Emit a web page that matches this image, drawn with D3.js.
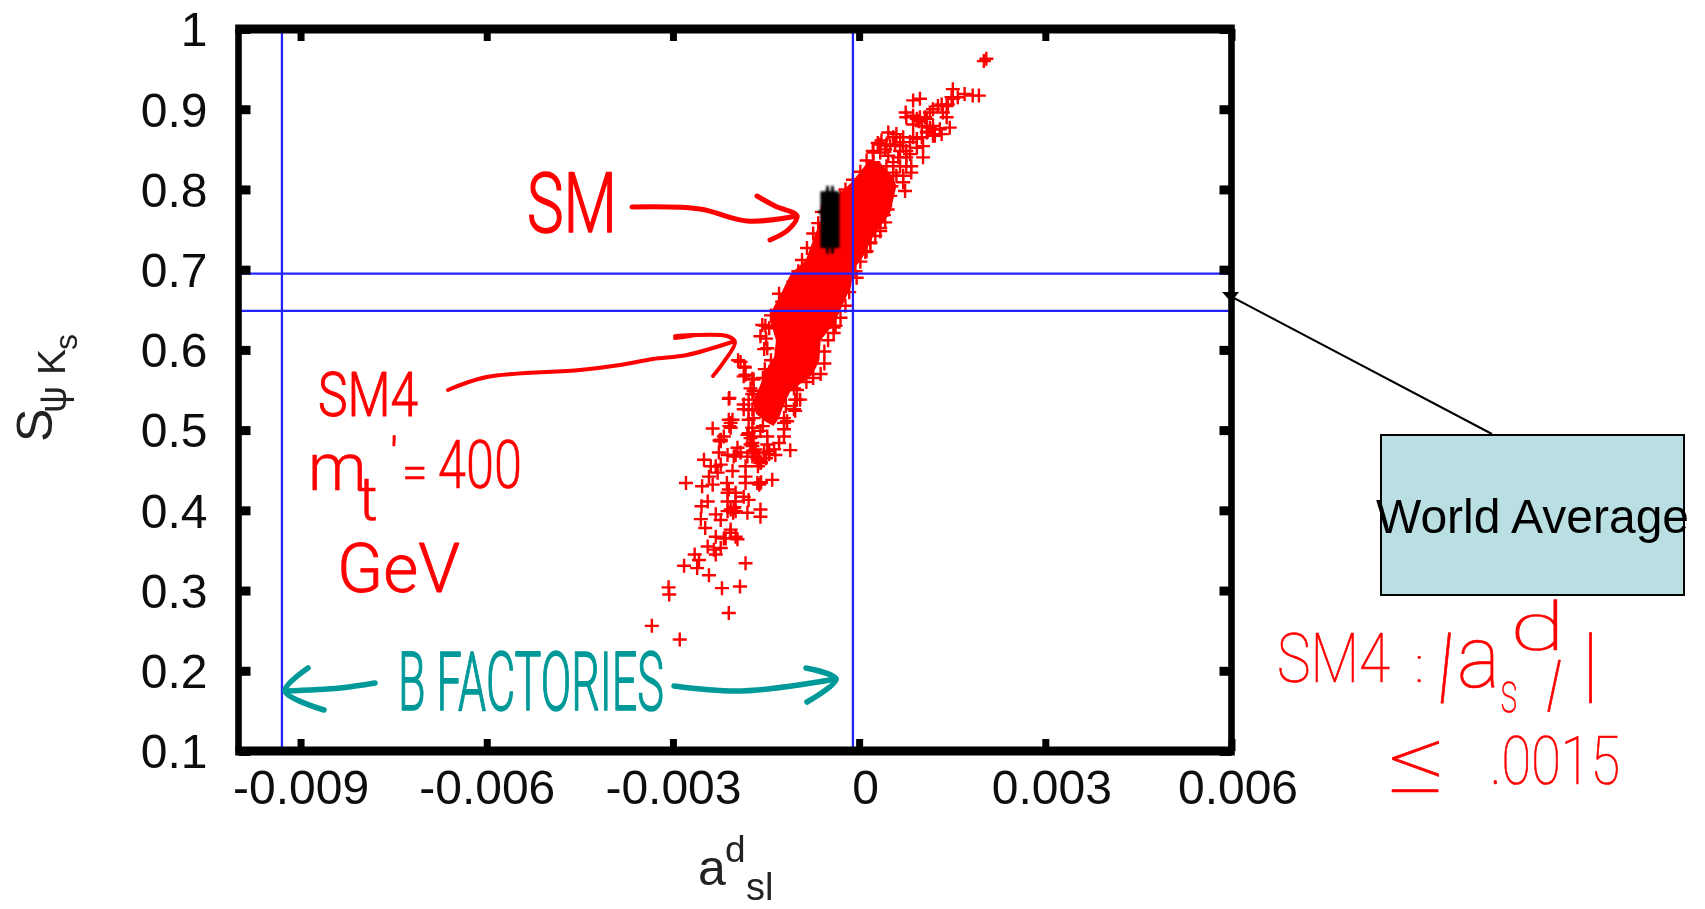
<!DOCTYPE html>
<html>
<head>
<meta charset="utf-8">
<title>S psi Ks versus a^d_sl</title>
<script src="https://cdn.jsdelivr.net/npm/d3@7"></script>
<style>
html,body{margin:0;padding:0;background:#fff}
svg{display:block;font-family:"Liberation Sans",Arial,sans-serif}
</style>
</head>
<body>
<svg id="chart" width="1705" height="909"></svg>
<script>
// ---- data: x values are in units of 10^-3 ----
const xTicks=[-9,-6,-3,0,3,6];
const xTickLabels=["-0.009","-0.006","-0.003","0","0.003","0.006"];
const yTicks=[0.1,0.2,0.3,0.4,0.5,0.6,0.7,0.8,0.9,1];
const yTickLabels=["0.1","0.2","0.3","0.4","0.5","0.6","0.7","0.8","0.9","1"];
const bFactoryA=[-9.30,-0.10];
const worldAverageS=[0.6486,0.695];

// SM4 points read one by one: the lower tail
const sm4Tail=[[-3.34,.256],[-2.89,.239],[-2.10,.272],[-3.07,.304],[-3.06,.295],[-2.21,.303],[-1.92,.305],[-2.42,.319],[-1.83,.334],[-2.82,.331],[-2.61,.328],[-2.65,.345],[-2.58,.338],[-2.44,.355],[-2.34,.351],[-2.31,.345],[-2.23,.353],[-2.07,.372],[-1.96,.364],[-2.15,.365],[-2.31,.367],[-2.48,.378],[-2.55,.389],[-2.31,.395],[-2.23,.388],[-2.07,.401],[-1.99,.399],[-2.03,.397],[-2.01,.404],[-1.80,.397],[-1.59,.401],[-1.59,.392],[-2.54,.405],[-2.44,.411],[-2.12,.422],[-1.86,.417],[-1.78,.413],[-1.99,.411],[-2.53,.430],[-2.79,.434],[-2.36,.432],[-2.13,.434],[-1.83,.434],[-1.61,.432],[-1.64,.434],[-1.58,.435],[-1.40,.438],[-2.42,.442],[-2.28,.447],[-2.04,.449],[-1.83,.455],[-2.50,.463],[-2.26,.472],[-2.02,.467],[-1.91,.472],[-1.61,.463],[-1.35,.469],[-1.11,.475],[-2.23,.486],[-1.96,.478],[-2.36,.502],[-2.07,.509],[-2.09,.505],[-1.70,.492],[-1.48,.492],[-1.21,.492],[-2.10,.539],[-1.86,.526],[-1.86,.567],[-1.95,.587],[-1.84,.578],[-1.70,.563],[-1.52,.576],[-1.59,.617],[-1.53,.601],[-1.51,.630],[-1.03,.538],[-1.03,.524],[-1.21,.509],[-0.74,.565],[-0.41,.628],[-0.41,.621],[-1.69,.471],[-1.63,.455],[-1.58,.460],[-1.72,.480],[-1.75,.490],[-1.78,.496],[-1.72,.484],[-1.67,.476],[-2.25,.487],[-1.45,.470],[-1.50,.465],[-1.91,.585],[-1.85,.579],[-1.83,.569],[-1.72,.564],[-1.75,.552],[-2.09,.540],[-1.42,.587],[-1.48,.602],[-1.50,.614],[-1.45,.627],[-1.56,.631],[-1.05,.552],
[-1.86,.532],[-1.78,.538],[-1.70,.549],[-1.72,.526],[-1.78,.513],[-1.72,.503],[-1.59,.499],[-1.80,.494],[-1.75,.482],[-1.70,.474],[-1.64,.465],[-1.59,.459],[-1.72,.467],[-1.53,.472],[-1.45,.474],[-1.37,.476],[-1.29,.484],[-1.48,.482],[-1.21,.501],[-1.16,.511],[-1.05,.526],[-1.00,.538],[-0.95,.538],[-2.31,.455],[-2.23,.457],[-2.39,.455],[-2.12,.399],[-2.02,.403],[-2.10,.426],[-1.99,.422],[-2.12,.411],[-2.23,.488],[-2.18,.492],[-2.07,.503],[-2.10,.513],[-2.04,.513],[-1.59,.434],[-1.99,.469],[-2.12,.469],[-1.80,.467],[-1.83,.442],[-2.18,.365],[-2.07,.376],[-1.99,.367]];

// SM4 points read one by one: the upper tail
const sm4Head=[[2.05,.963],[2.01,.960],[1.93,.917],[1.83,.917],[1.70,.919],[1.59,.915],[1.51,.925],[1.51,.913],[1.43,.906],[1.33,.906],[1.19,.900],[0.98,.913],[0.87,.911],[0.75,.896],[0.76,.890],[1.06,.890],[0.93,.888],[1.41,.890],[1.46,.877],[1.33,.869],[1.22,.867],[1.14,.877],[1.01,.879],[0.87,.881],[1.19,.875],[0.96,.885],[1.10,.872],[0.47,.871],[0.36,.861],[0.60,.869],[0.71,.865],[0.87,.865],[0.44,.856],[0.58,.856],[0.71,.854],[0.82,.859],[1.03,.854],[0.47,.842],[0.63,.840],[0.76,.840],[1.03,.840],[0.84,.829],[0.84,.821],[0.71,.817],[0.71,.809],[0.74,.798],[0.60,.817],[0.52,.804],[0.50,.792],[0.42,.779],[0.42,.759],[0.34,.748],[0.18,.734],[0.12,.723],[-0.04,.690],
[0.23,.834],[0.34,.846],[0.34,.856],[0.42,.850],[0.50,.854],[0.23,.846],[0.55,.834],[0.66,.829],[0.55,.821],[0.76,.829],[0.44,.829],[0.66,.848],[0.76,.848],[0.93,.852],[0.82,.844],[0.66,.859],[0.55,.865],[0.93,.863],[1.01,.865],[1.09,.871],[1.19,.867],[1.19,.879],[1.30,.875],[1.09,.888],[0.98,.890],[0.87,.892],[1.14,.896],[1.27,.904],[1.35,.896],[1.41,.904],[1.49,.915]];

// SM4 points along the two edges of the solid band
const sm4Edge=[[-1.22,.652],[-1.16,.668],[-1.06,.685],[-0.98,.698],[-0.92,.712],[-0.84,.727],[-0.74,.745],[-0.66,.758],[-0.60,.772],[-0.30,.790],[-0.22,.800],[-0.10,.812],[0.02,.822],[0.12,.836],[0.22,.848],[0.30,.858],[0.46,.775],[0.40,.768],[0.34,.752],[0.26,.742],[0.18,.733],[0.10,.722],[0.02,.710],[-0.06,.698],[-0.16,.672],[-0.22,.655],[-0.30,.640],[-0.38,.630],[-0.50,.612],[-0.56,.598],[-0.56,.583],[-0.62,.570],[-1.25,.620],[-1.25,.600],[-1.35,.580],[-1.55,.565],[-1.72,.545],[-1.78,.525],[-1.70,.515],[-1.55,.505],[-1.29,.670],[-1.24,.660],[-1.42,.643],[-1.21,.515],[-1.18,.530],[-1.00,.550],[-0.85,.560]];

// Outline of the region where the SM4 crosses merge into solid red
const sm4Solid=[[-1.60,.555],[-1.72,.535],[-1.66,.520],[-1.50,.510],[-1.38,.505],[-1.29,.515],[-1.22,.530],[-1.11,.548],[-0.94,.558],[-0.75,.569],[-0.64,.587],[-0.62,.612],[-0.40,.633],[-0.30,.650],[-0.13,.679],[-0.09,.700],[0.07,.717],[0.23,.742],[0.50,.771],[0.60,.804],[0.55,.815],[0.32,.835],[0.15,.835],[-0.12,.809],[-0.30,.796],[-0.52,.779],[-0.68,.750],[-0.86,.712],[-1.10,.695],[-1.26,.670],[-1.40,.650],[-1.42,.633],[-1.34,.612],[-1.37,.591],[-1.50,.575]];

// SM points: two columns per row
const smColumns=[-0.51,-0.43];
const smRows=[.796,.7935,.791,.7885,.786,.7835,.781,.7785,.776,.7735,.771,.7685,.766,.7635,.761,.7585,.756,.7535,.751,.7485,.746,.7435,.741,.7385,.736,.7335,.731,.7285];
const smStray=[[-0.47,.770],[-0.47,.755],[-0.47,.740],[-0.55,.772]];

const xScale=d3.scaleLinear().domain([-10,6]).range([238.5,1231.5]);
const yScale=d3.scaleLinear().domain([0.1,1]).range([751,29]);
const svg=d3.select("#chart");

const defs=svg.append("defs");
const blur=(id,s)=>defs.append("filter").attr("id",id).attr("x","-10%").attr("y","-10%").attr("width","120%").attr("height","120%").append("feGaussianBlur").attr("stdDeviation",s);
blur("soft",0.55);blur("softer",0.3);blur("smBlur",0.8);

// ---- marks ----
const crossPath="M-7,0H7M0,-7V7";
const marks=svg.append("g").attr("filter","url(#softer)");
marks.append("path").datum(sm4Solid)
  .attr("d",d3.line().x(d=>xScale(d[0])).y(d=>yScale(d[1])).curve(d3.curveLinearClosed))
  .attr("fill","#ff0000");
marks.selectAll("path.sm4").data(sm4Tail.concat(sm4Head,sm4Edge)).join("path").attr("class","sm4")
  .attr("d",crossPath).attr("transform",d=>`translate(${xScale(d[0])},${yScale(d[1])})`)
  .attr("stroke","#ff0000").attr("stroke-width",2.4).attr("fill","none");
const smPoints=smRows.flatMap(s=>smColumns.map(a=>[a,s])).concat(smStray);
svg.append("g").attr("filter","url(#smBlur)").selectAll("path").data(smPoints).join("path")
  .attr("d",crossPath).attr("transform",d=>`translate(${xScale(d[0])},${yScale(d[1])})`)
  .attr("stroke","#000").attr("stroke-width",2.6).attr("fill","none");

// ---- blue bands ----
const blue="#2222ff";
svg.append("g").selectAll("line").data(bFactoryA).join("line")
  .attr("x1",d=>xScale(d)).attr("x2",d=>xScale(d)).attr("y1",yScale.range()[1]).attr("y2",yScale.range()[0])
  .attr("stroke",blue).attr("stroke-width",2.3);
svg.append("g").selectAll("line").data(worldAverageS).join("line")
  .attr("y1",d=>yScale(d)).attr("y2",d=>yScale(d)).attr("x1",xScale.range()[0]).attr("x2",xScale.range()[1])
  .attr("stroke",blue).attr("stroke-width",2.3);

// ---- axes and frame ----
const fmtX=d=>xTickLabels[xTicks.indexOf(d)], fmtY=d=>yTickLabels[yTicks.indexOf(d)];
const styleTicks=(g,w)=>{g.select(".domain").remove();g.selectAll(".tick line").attr("stroke","#000").attr("stroke-width",w);};
const axisText=g=>g.selectAll(".tick text").attr("font-family","Liberation Sans").attr("font-size",48).attr("fill","#111");
const ax=svg.append("g").attr("filter","url(#soft)");
const gb=ax.append("g").attr("transform",`translate(0,${yScale(0.1)})`)
  .call(d3.axisBottom(xScale).tickValues(xTicks).tickFormat(fmtX).tickSizeInner(-12).tickSizeOuter(0).tickPadding(19));
styleTicks(gb,7);axisText(gb);
gb.selectAll(".tick text").attr("dx",d=>d>=0?6:0);
const gt=ax.append("g").attr("transform",`translate(0,${yScale(1)})`)
  .call(d3.axisTop(xScale).tickValues(xTicks).tickFormat("").tickSizeInner(-12).tickSizeOuter(0));
styleTicks(gt,7);
const gl=ax.append("g").attr("transform",`translate(${xScale(-10)},0)`)
  .call(d3.axisLeft(yScale).tickValues(yTicks).tickFormat(fmtY).tickSizeInner(-12).tickSizeOuter(0).tickPadding(31));
styleTicks(gl,9);axisText(gl);
gl.selectAll(".tick text").attr("dy","0.35em");
const gr=ax.append("g").attr("transform",`translate(${xScale(6)},0)`)
  .call(d3.axisRight(yScale).tickValues(yTicks).tickFormat("").tickSizeInner(-12).tickSizeOuter(0));
styleTicks(gr,9);

const [x0,x1]=xScale.range(),[y0,y1]=yScale.range();
const frame=svg.append("g").attr("stroke","#000").attr("filter","url(#softer)");
frame.append("line").attr("x1",x0-3.3).attr("x2",x1+3.3).attr("y1",y1).attr("y2",y1).attr("stroke-width",9);
frame.append("line").attr("x1",x0-3.3).attr("x2",x1+3.3).attr("y1",y0).attr("y2",y0).attr("stroke-width",9);
frame.append("line").attr("x1",x0).attr("x2",x0).attr("y1",y1).attr("y2",y0).attr("stroke-width",6.6);
frame.append("line").attr("x1",x1).attr("x2",x1).attr("y1",y1).attr("y2",y0).attr("stroke-width",6.6);

// axis titles
const yl=svg.append("text").attr("transform","rotate(-90)").attr("fill","#222").attr("filter","url(#soft)");
[["S",-442,52,50],["\u03C8",-413,66,38],["K",-375,65,39],["s",-350,77,32]].forEach(([t,u,v,s])=>
  yl.append("tspan").attr("x",u).attr("y",v).attr("font-size",s).text(t));
const xl=svg.append("text").attr("fill","#222").attr("filter","url(#soft)");
[["a",698,885,50],["d",725,862,37],["sl",746,900,38]].forEach(([t,u,v,s])=>
  xl.append("tspan").attr("x",u).attr("y",v).attr("font-size",s).text(t));

// ---- World Average callout ----
svg.append("line").attr("x1",1492).attr("y1",434).attr("x2",1232).attr("y2",297).attr("stroke","#000").attr("stroke-width",2);
svg.append("path").attr("d","M1222,292L1239,292L1231,302Z").attr("fill","#000");
svg.append("rect").attr("x",1381).attr("y",435).attr("width",303).attr("height",160)
  .attr("fill","#BADFE2").attr("stroke","#000").attr("stroke-width",2);
svg.append("text").attr("x",1532.5).attr("y",533).attr("text-anchor","middle").attr("font-size",48).attr("fill","#000").text("World Average");

// ---- handwritten annotations ----
const red="#ff0000", teal="#009999";
const ink=svg.append("g").attr("id","ink");
function note(t,x,y,size,len,opt={}){
  const e=ink.append("text").attr("x",x).attr("y",y).attr("font-size",size).attr("fill",opt.color||red)
    .attr("font-family",opt.family||"Roboto").attr("font-weight",opt.weight||300)
    .attr("stroke",opt.stroke?(opt.color||red):"none").attr("stroke-width",opt.stroke||0).attr("stroke-linejoin","round");
  if(len)e.attr("textLength",len).attr("lengthAdjust","spacingAndGlyphs");
  if(opt.tf)e.attr("transform",opt.tf);
  e.text(t);
}
const thin={weight:100,stroke:.7};
note("SM",527,232,84,90,{stroke:1.5});
note("SM4",318,416,62,100,{stroke:1});
const mass=ink.append("text").attr("font-family","Roboto").attr("font-weight",300).attr("fill",red).attr("stroke",red).attr("stroke-width",.5);
[["m",308,490,66],["t",358,520,62],["\u2032",390,472,48],["=",402,488,46]].forEach(([t,u,v,s])=>
  mass.append("tspan").attr("x",u).attr("y",v).attr("font-size",s).text(t));
note("400",438,488,66,84,{stroke:.5});
note("GeV",337,592,68,123,{stroke:.8});
note("B FACTORIES",398,710,82,266,{stroke:1.5,color:teal});
note("SM4",1277,682,68,113,thin);
note(":",1415,682,48,0,thin);
note("|",1438,692,84,0,{...thin,tf:"rotate(6 1443 660)"});
note("a",1457,687,88,43,thin);
note("d",1510,650,66,55,thin);
note("s",1500,712,58,18,thin);
note("l",1546,712,70,0,{...thin,tf:"rotate(12 1553 690)"});
note("|",1582,692,84,0,thin);
note("\u2264",1388,792,90,58,thin);
note(".0015",1490,784,66,130,thin);

const curve=d3.line().curve(d3.curveCatmullRom);
const strokes=[
 {c:red,w:5,p:[[632,207],[700,209],[747,221],[797,216]]},
 {c:red,w:5,p:[[757,196],[775,206],[797,216],[788,230],[770,240]]},
 {c:red,w:4,p:[[448,390],[487,377],[580,370],[620,365],[653,359],[687,355],[732,342]]},
 {c:red,w:4,p:[[675,338],[700,335],[675,336],[727,336],[735,342],[723,363],[713,376]]},
 {c:teal,w:5.5,p:[[375,683],[340,688],[285,691]]},
 {c:teal,w:5.5,p:[[308,668],[285,691],[324,710]]},
 {c:teal,w:5.5,p:[[674,686],[741,691],[836,679]]},
 {c:teal,w:5.5,p:[[806,668],[836,679],[807,702]]}
];
ink.selectAll("path").data(strokes).join("path")
  .attr("d",d=>curve(d.p)).attr("fill","none").attr("stroke",d=>d.c).attr("stroke-width",d=>d.w)
  .attr("stroke-linecap","round").attr("stroke-linejoin","round");
</script>
</body>
</html>
